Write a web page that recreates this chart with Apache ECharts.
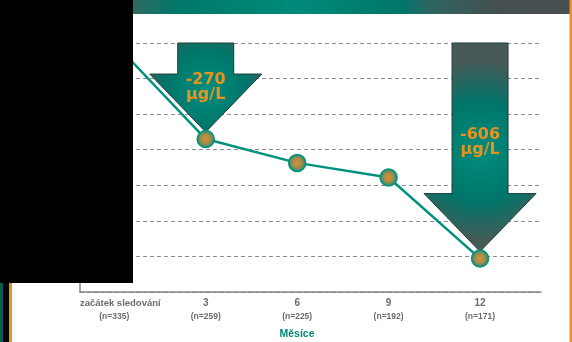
<!DOCTYPE html>
<html>
<head>
<meta charset="utf-8">
<script src="https://cdn.jsdelivr.net/npm/echarts@6.0.0/dist/echarts.min.js"></script>
<style>
  html, body { margin: 0; padding: 0; background: #ffffff; }
  #chart { width: 572px; height: 342px; }
</style>
</head>
<body>
<div id="chart"></div>
<script>
// Follow-up months and their axis captions
const months = [0, 3, 6, 9, 12];
const monthLabels = ['začátek sledování', '3', '6', '9', '12'];
const patientCounts = ['(n=335)', '(n=259)', '(n=225)', '(n=192)', '(n=171)'];

// Change of serum ferritin against the start of follow-up (µg/L)
const ferritinChange = [0, -270, -337, -378, -606];

// Points that get a call-out arrow with the change written inside
const calloutPoints = [1, 4];
const unitLabel = 'µg/L';

// Value axis range
const yMin = -700;
const yMax = 0;
const yStep = 100;

const axisName = 'Měsíce';

const TEAL = '#00927f';
const ORANGE = '#e8921f';
const GREY_TEXT = '#6c6c6c';
const CAPTION_FONT = '"Liberation Sans", Arial, sans-serif';

const chart = echarts.init(document.getElementById('chart'), null, { renderer: 'canvas' });

const seriesData = months.map((m, i) => [m, ferritinChange[i]]);

chart.setOption({
  animation: false,
  backgroundColor: '#ffffff',
  grid: { left: 80, right: 31, top: 43, bottom: 50, containLabel: false, outerBoundsMode: 'none' },
  xAxis: {
    type: 'value',
    min: -1.125,
    max: 14,
    name: axisName,
    nameLocation: 'middle',
    nameGap: 37,
    nameTextStyle: {
      color: '#008a78', fontFamily: CAPTION_FONT, fontWeight: 'bold', fontSize: 10.5,
      padding: [0, 27, 0, 0]
    },
    axisLine: { show: true, onZero: false, lineStyle: { color: '#858585', width: 1.5 } },
    axisTick: { show: false },
    splitLine: { show: false },
    axisLabel: {
      customValues: months,
      margin: 4,
      formatter: function (value) {
        const i = months.indexOf(value);
        if (i < 0) return '';
        const head = i === 0 ? 'first' : 'cat';
        return '{' + head + '|' + monthLabels[i] + '}\n{n|' + patientCounts[i] + '}';
      },
      rich: {
        first: { fontFamily: CAPTION_FONT, fontWeight: 'bold', fontSize: 9.5, color: GREY_TEXT, lineHeight: 14, padding: [0, 0, 0, 12] },
        cat: { fontFamily: CAPTION_FONT, fontWeight: 'bold', fontSize: 10, color: GREY_TEXT, lineHeight: 14 },
        n: { fontFamily: CAPTION_FONT, fontWeight: 'bold', fontSize: 8.5, color: GREY_TEXT, lineHeight: 13 }
      }
    }
  },
  yAxis: {
    type: 'value',
    min: yMin,
    max: yMax,
    interval: yStep,
    axisLine: { show: true, onZero: false, lineStyle: { color: '#858585', width: 1.5 } },
    axisTick: { show: false },
    axisLabel: { show: false },
    splitLine: { show: true, lineStyle: { color: '#8c8c8c', width: 1, type: [4, 3] } }
  },
  series: [{
    type: 'line',
    data: seriesData,
    z: 5,
    symbol: 'circle',
    symbolSize: 17,
    lineStyle: { color: TEAL, width: 2.5 },
    itemStyle: {
      color: {
        type: 'radial', x: 0.5, y: 0.5, r: 0.5,
        colorStops: [
          { offset: 0, color: '#d4913a' },
          { offset: 0.5, color: '#a88c48' },
          { offset: 1, color: '#0a8f7c' }
        ]
      },
      borderColor: '#00937f',
      borderWidth: 1.5
    },
    emphasis: { disabled: true }
  }]
});

// Call-out arrows: from the top grid line down to just above the marked point
const topY = chart.convertToPixel({ yAxisIndex: 0 }, yMax);
const arrowGraphics = calloutPoints.map((idx, k) => {
  const p = chart.convertToPixel({ gridIndex: 0 }, seriesData[idx]);
  const cx = p[0];
  const tipY = p[1] - 7;
  const headBase = tipY - 58;
  const shaftHalf = 28;
  const headHalf = 56;
  const textY = topY + 4 + 0.458 * (tipY - topY);
  return {
    type: 'group',
    id: 'callout' + k,
    z: 3,
    children: [
      {
        type: 'polygon',
        shape: {
          points: [
            [cx - shaftHalf, topY], [cx + shaftHalf, topY], [cx + shaftHalf, headBase],
            [cx + headHalf, headBase], [cx, tipY], [cx - headHalf, headBase], [cx - shaftHalf, headBase]
          ]
        },
        style: {
          fill: {
            type: 'radial', x: 0.5, y: 0.52, r: 0.8,
            colorStops: [
              { offset: 0, color: '#008d7c' },
              { offset: 0.55, color: '#00766a' },
              { offset: 1, color: '#475a57' }
            ]
          },
          stroke: '#1e3d38',
          lineWidth: 1
        }
      },
      {
        type: 'text',
        x: cx,
        y: textY,
        style: {
          text: String(ferritinChange[idx]) + '\n' + unitLabel,
          fill: ORANGE,
          font: 'bold 16px "DejaVu Sans", Verdana, sans-serif',
          lineHeight: 15,
          align: 'center',
          verticalAlign: 'middle'
        }
      }
    ]
  };
});

chart.setOption({
  graphic: [
    // header band
    {
      type: 'rect', id: 'band', z: 1,
      shape: { x: 0, y: 0, width: 570, height: 14 },
      style: {
        fill: {
          type: 'linear', x: 0, y: 0, x2: 1, y2: 0,
          colorStops: [
            { offset: 0, color: '#2e6a61' },
            { offset: 0.233, color: '#2e6a61' },
            { offset: 0.316, color: '#00786a' },
            { offset: 0.52, color: '#008a79' },
            { offset: 0.707, color: '#00766a' },
            { offset: 0.754, color: '#2e6660' },
            { offset: 0.87, color: '#444f50' },
            { offset: 1, color: '#4a5052' }
          ]
        }
      }
    },
    // side stripes
    { type: 'rect', id: 'stripeRight', z: 1, shape: { x: 569.5, y: 0, width: 2.5, height: 342 }, style: { fill: ORANGE } },
    { type: 'rect', id: 'stripeTeal', z: 1, shape: { x: 0, y: 0, width: 3, height: 342 }, style: { fill: '#0b5c4e' } },
    { type: 'rect', id: 'stripeBlack', z: 1, shape: { x: 3, y: 0, width: 6, height: 342 }, style: { fill: '#050505' } },
    { type: 'rect', id: 'stripeOrange', z: 1, shape: { x: 9, y: 0, width: 3, height: 342 }, style: { fill: ORANGE } },
    ...arrowGraphics,
    // black panel over the upper left corner
    { type: 'rect', id: 'panel', z: 100, shape: { x: 0, y: 0, width: 133, height: 283 }, style: { fill: '#000000' } }
  ]
});
</script>
</body>
</html>
